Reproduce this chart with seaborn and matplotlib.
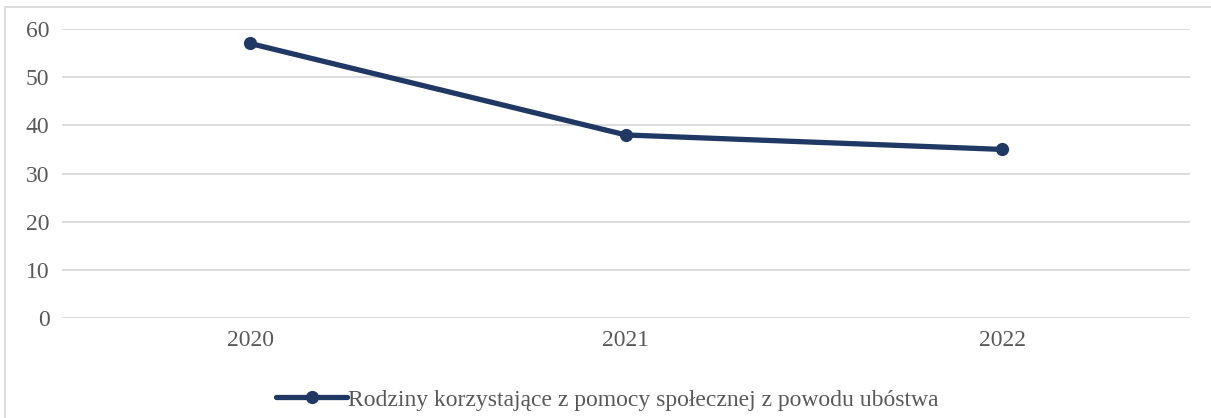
import matplotlib
matplotlib.use('Agg')
import matplotlib.pyplot as plt
import seaborn as sns
import pandas as pd
from matplotlib.patches import Rectangle

# ============================================================
# Data
# ============================================================
years = ['2020', '2021', '2022']
families = [57, 38, 35]
series_label = 'Rodziny korzystające z pomocy społecznej z powodu ubóstwa'
y_ticks = [0, 10, 20, 30, 40, 50, 60]

df = pd.DataFrame({'Rok': years, 'Rodziny': families})

sns.set_theme(style='white')
plt.rcParams['font.family'] = ['Liberation Serif', 'DejaVu Serif']

line_color = '#203864'
text_color = '#595959'
grid_color = '#D9D9D9'

fig = plt.figure(figsize=(12.11, 4.18), dpi=100)
ax = fig.add_axes([62 / 1211, 1 - 318 / 418, (1190 - 62) / 1211, (318 - 29) / 418])

sns.lineplot(data=df, x='Rok', y='Rodziny', ax=ax, color=line_color,
             linewidth=3.8, marker='o', markersize=9.5, markeredgewidth=0,
             label=series_label, sort=False)

ax.set_xlim(-0.5, 2.5)
ax.set_ylim(0, 60)
ax.set_yticks(y_ticks)
ax.yaxis.grid(True, color=grid_color, linewidth=1.3)
ax.set_axisbelow(True)
for s in ax.spines.values():
    s.set_visible(False)
ax.tick_params(axis='both', length=0, labelsize=17, labelcolor=text_color)
ax.tick_params(axis='y', pad=9)
ax.tick_params(axis='x', pad=9)
ax.set_xlabel('')
ax.set_ylabel('')

# legend centred on the whole chart area, not on the plot area
leg = ax.legend(loc='center', bbox_to_anchor=(0.4836, -0.283), frameon=False,
                fontsize=17, handlelength=3.0, handletextpad=0.05,
                labelcolor=text_color)

# outer chart border
fig.patches.append(Rectangle((5 / 1211, -0.01), 1.1, 1 - 7 / 418 + 0.01,
                             transform=fig.transFigure, fill=False,
                             edgecolor=grid_color, linewidth=1.3))

plt.savefig('out.png', dpi=100)
